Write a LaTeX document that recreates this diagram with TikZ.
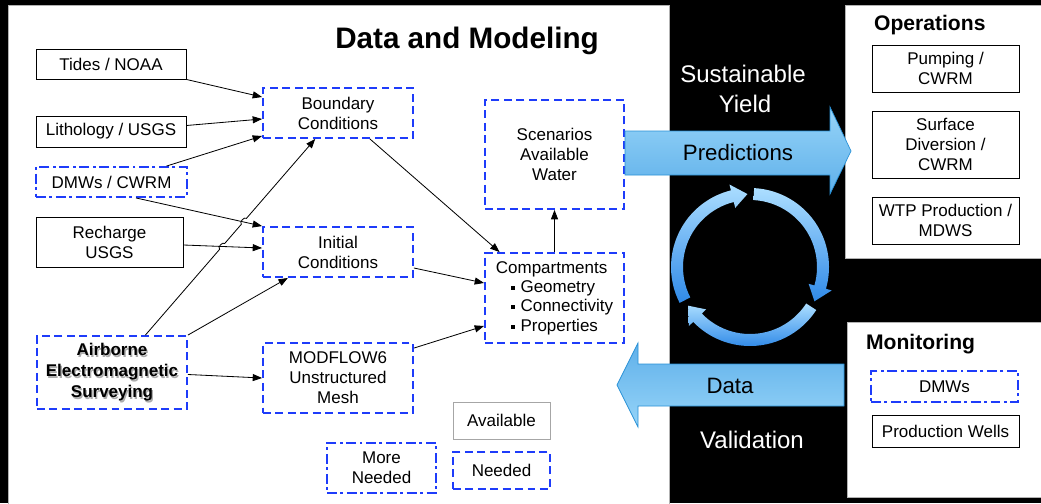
\documentclass[tikz,border=0pt]{standalone}
\usepackage{fontspec}
\setmainfont{Liberation Sans}
\usetikzlibrary{arrows.meta,calc}

\newdimen\pxu \pxu=0.03cm
\newcommand{\sqb}{\rule[0.3ex]{3.5pt}{3.5pt}}
\definecolor{needblue}{RGB}{30,60,250}
\definecolor{predtop}{RGB}{150,212,248}
\definecolor{predbot}{RGB}{95,176,234}
\definecolor{predline}{RGB}{40,145,215}
\definecolor{cyclight}{RGB}{172,222,255}
\definecolor{cycdark}{RGB}{48,138,232}

\begin{document}
\begin{tikzpicture}[x=0.03cm,y=-0.03cm,
  every node/.style={font=\fontsize{14.5}{17}\selectfont},
  have/.style={draw=black,line width=0.8pt,align=center,inner sep=2pt},
  need/.style={draw=needblue,line width=1.6pt,dash pattern=on 6.8pt off 3.8pt,align=center,inner sep=2pt},
  more/.style={draw=needblue,line width=1.6pt,dash pattern=on 8.5pt off 3pt on 2.5pt off 3pt,align=center,inner sep=2pt},
  conn/.style={line width=0.7pt,-{Triangle[length=8pt,width=6pt]}},
  bigwhite/.style={text=white,font=\fontsize{20.5}{24}\selectfont,anchor=base},
  arrowtext/.style={font=\fontsize{19}{22}\selectfont,anchor=base},
  panelhead/.style={font=\fontsize{18}{21}\selectfont\bfseries,anchor=base west}]

\useasboundingbox (0,0) rectangle (1041,503);

% panels
\fill[black] (0,0) rectangle (1041,503);
\filldraw[fill=white,draw=gray!60] (8,5) rectangle (669,504);
\filldraw[fill=white,draw=gray!60] (845,5) rectangle (1045,258);
\filldraw[fill=white,draw=gray!60] (847,322) rectangle (1045,497);

% Data and Modeling
\node[font=\fontsize{25.3}{30}\selectfont\bfseries,anchor=base] (title) at (467,48) {Data and Modeling};

\node[have,minimum width=150\pxu,minimum height=30\pxu] (tides) at (111,64) {Tides / NOAA};
\node[have,minimum width=150\pxu,minimum height=31\pxu] (litho) at (111,131.5) {Lithology / USGS};
\node[more,minimum width=151\pxu,minimum height=30\pxu] (dmwcw) at (111.5,182) {DMWs / CWRM};
\node[have,minimum width=147\pxu,minimum height=50\pxu] (rech) at (109.5,242) {Recharge\\USGS};

% airborne survey, bold with soft shadow
\node[text=gray!65,font=\fontsize{14.5}{18}\selectfont\bfseries,align=center] at (113.3,374.5) {Airborne\\Electromagnetic\\Surveying};
\node[need,minimum width=150\pxu,minimum height=73\pxu,font=\fontsize{14.5}{18}\selectfont\bfseries] (aem) at (112,372.5) {Airborne\\Electromagnetic\\Surveying};

\node[need,minimum width=150\pxu,minimum height=50\pxu] (bc) at (338,113) {Boundary\\Conditions};
\node[need,minimum width=150\pxu,minimum height=50\pxu] (ic) at (338,252) {Initial\\Conditions};
\node[need,minimum width=150\pxu,minimum height=70\pxu] (mesh) at (338,378) {MODFLOW6\\Unstructured\\Mesh};
\node[need,minimum width=139\pxu,minimum height=109\pxu,font=\fontsize{14.5}{16.8}\selectfont] (scen) at (554.5,154.5) {Scenarios\\Available\\Water};
\node[need,minimum width=139\pxu,minimum height=90\pxu,align=left,font=\fontsize{14.5}{16.6}\selectfont] (comp) at (554.5,298)
  {Compartments\\\hspace*{13pt}\sqb\hspace{4.5pt}Geometry\\\hspace*{13pt}\sqb\hspace{4.5pt}Connectivity\\\hspace*{13pt}\sqb\hspace{4.5pt}Properties};

% legend
\node[have,draw=gray!70,minimum width=97\pxu,minimum height=37\pxu] (avail) at (501.5,420.5) {Available};
\node[more,minimum width=109\pxu,minimum height=50\pxu] (moreneed) at (381.5,468) {More\\Needed};
\node[need,minimum width=97\pxu,minimum height=37\pxu] (needed) at (501.5,470.5) {Needed};

% connectors
\coordinate (aemN) at ($(aem.north west)!0.72!(aem.north east)$);
\coordinate (bcS) at ($(bc.south west)!0.35!(bc.south east)$);
\draw[conn] (tides.south east) -- ([yshift=16\pxu]bc.west);
\draw[conn] ([yshift=6\pxu]litho.east) -- ([yshift=-6\pxu]bc.west);
\draw[conn] ($(dmwcw.north west)!0.86!(dmwcw.north east)$) -- ([yshift=-23\pxu]bc.west);
\draw[conn] ($(dmwcw.south west)!0.66!(dmwcw.south east)$) -- (ic.north west);
\draw[conn] ([yshift=-3\pxu]rech.east) -- ([yshift=4\pxu]ic.west);
\draw[conn] (aemN) -- ($(aemN)!0.437!(bcS)$) to[bend left=90] ($(aemN)!0.467!(bcS)$)
  -- ($(aemN)!0.565!(bcS)$) to[bend left=90] ($(aemN)!0.595!(bcS)$) -- (bcS);
\draw[conn] (aem.north east) -- ($(ic.south west)!0.17!(ic.south east)$);
\draw[conn] ([yshift=-2\pxu]aem.east) -- (mesh.west);
\draw[conn] ($(bc.south west)!0.71!(bc.south east)$) -- ($(comp.north west)!0.11!(comp.north east)$);
\draw[conn] ([yshift=-16\pxu]ic.east) -- ([yshift=15\pxu]comp.west);
\draw[conn] ([yshift=-6\pxu]mesh.north east) -- ([yshift=-28\pxu]comp.west);
\draw[conn] (comp.north) -- (scen.south);

% big arrows
\shadedraw[top color=predtop,bottom color=predbot,draw=predline,line width=0.6pt]
  (625,131) -- (830,131) -- (830,107) -- (851,151) -- (830,194) -- (830,175) -- (625,175) -- cycle;
\shadedraw[top color=predbot,bottom color=predtop,draw=predline,line width=0.6pt]
  (844,364) -- (638,364) -- (638,343) -- (617,385) -- (638,427) -- (638,406) -- (844,406) -- cycle;
\node[arrowtext] (pred) at (738,160) {Predictions};
\node[arrowtext] (data) at (730,393) {Data};

% cycle of three arcs
\begin{scope}[shift={(750,267)}]
  \foreach \s/\t in {-87/28, 33/148, -207/-92}{
    \pgfmathsetmacro{\h}{\t-12}
    \shade[top color=cyclight,bottom color=cycdark]
      (\s:79) arc[start angle=\s,end angle=\h,radius=79] -- (\h:85) -- (\t:73) -- (\h:61)
      -- (\h:67) arc[start angle=\h,end angle=\s,radius=67] -- cycle;
  }
\end{scope}

\node[bigwhite] (sust) at (743,82) {Sustainable};
\node[bigwhite] (yield) at (745,112) {Yield};
\node[bigwhite] (valid) at (752,448) {Validation};

% Operations
\node[panelhead] (ops) at (870,31) {Operations};
\node[have,minimum width=147\pxu,minimum height=47\pxu] (pump) at (945.5,68.5) {Pumping /\\CWRM};
\node[have,minimum width=147\pxu,minimum height=67\pxu] (surf) at (945.5,144.5) {Surface\\Diversion /\\CWRM};
\node[have,minimum width=147\pxu,minimum height=47\pxu] (wtp) at (945.5,220.5) {WTP Production /\\MDWS};

% Monitoring
\node[panelhead] (mon) at (862,349) {Monitoring};
\node[more,minimum width=147\pxu,minimum height=31\pxu] (dmw) at (944.5,386.5) {DMWs};
\node[have,minimum width=147\pxu,minimum height=32\pxu] (prod) at (945.5,431) {Production Wells};

\end{tikzpicture}
\end{document}
